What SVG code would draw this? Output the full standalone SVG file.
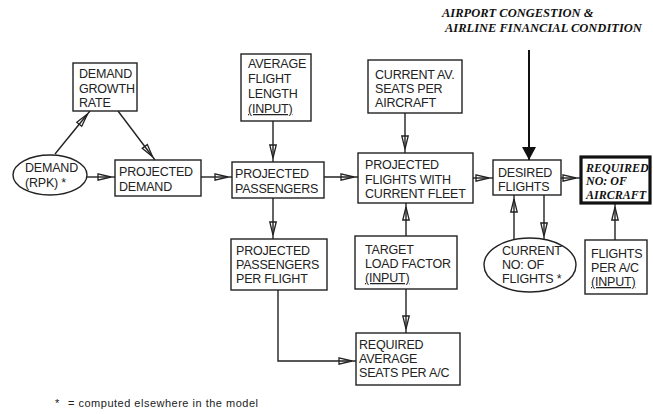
<svg xmlns="http://www.w3.org/2000/svg" width="653" height="414" viewBox="0 0 653 414">
<style>
.bx{fill:#fff;stroke:#222;stroke-width:1.4}
.thick{fill:#fff;stroke:#111;stroke-width:3.2}
.t{font-family:"Liberation Sans",Arial,sans-serif;font-size:12.5px;letter-spacing:-0.2px;fill:#222}
.bi{font-family:"Liberation Serif","Times New Roman",serif;font-size:12px;font-weight:bold;font-style:italic;fill:#111}
.ti{font-family:"Liberation Serif","Times New Roman",serif;font-size:12.5px;font-weight:bold;font-style:italic;fill:#111}
.fn{font-family:"Liberation Sans",Arial,sans-serif;font-size:11px;letter-spacing:0.5px;fill:#222}
.u{text-decoration:underline}
.c{fill:none;stroke:#222;stroke-width:1.4;marker-end:url(#oa)}
.cb{fill:none;stroke:#111;stroke-width:2;marker-end:url(#fa)}
</style>
<defs>
<marker id="oa" markerUnits="userSpaceOnUse" viewBox="0 0 14 10" markerWidth="14" markerHeight="10" refX="17" refY="5" orient="auto" overflow="visible">
<path d="M0,1.8 L13,5 L0,8.2 Z" fill="none" stroke="#222" stroke-width="1.3"/>
</marker>
<marker id="fa" markerUnits="userSpaceOnUse" viewBox="0 0 14 14" markerWidth="14" markerHeight="14" refX="13" refY="7" orient="auto" overflow="visible">
<path d="M0,0 L13,7 L0,14 Z" fill="#111"/>
</marker>
</defs>

<g id="title">
<text class="ti" x="442" y="17">AIRPORT CONGESTION &amp;</text>
<text class="ti" x="445" y="32">AIRLINE FINANCIAL CONDITION</text>
</g>

<g id="connectors">
<path class="c" d="M55,154 L90,111"/>
<path class="c" d="M118,111 L155,160"/>
<path class="c" d="M87,177 L115,177"/>
<path class="c" d="M201,177 L232,177"/>
<path class="c" d="M273,121 L273,162"/>
<path class="c" d="M324,177 L358,177"/>
<path class="c" d="M273,198 L273,239"/>
<path class="c" d="M278,290 L278,361 L356,361"/>
<path class="c" d="M405,113 L405,153"/>
<path class="c" d="M406,236 L406,203"/>
<path class="c" d="M406,289 L406,333"/>
<path class="c" d="M473,178 L493,178"/>
<path class="cb" d="M529,50 L529,160"/>
<path class="c" d="M561,178 L580,178"/>
<path class="c" d="M514,239 L514,195"/>
<path class="c" d="M544,195 L544,240"/>
<path class="c" d="M615,240 L615,203"/>
</g>

<g id="demand-growth-rate">
<rect class="bx" x="73" y="63" width="64" height="48"/>
<text class="t" x="79" y="78">DEMAND</text>
<text class="t" x="79" y="93">GROWTH</text>
<text class="t" x="79" y="107">RATE</text>
</g>

<g id="demand-rpk">
<ellipse class="bx" cx="50" cy="175" rx="37" ry="20"/>
<text class="t" x="25" y="172">DEMAND</text>
<text class="t" x="25" y="187">(RPK) *</text>
</g>

<g id="projected-demand">
<rect class="bx" x="115" y="160" width="86" height="36"/>
<text class="t" x="119" y="176">PROJECTED</text>
<text class="t" x="119" y="191">DEMAND</text>
</g>

<g id="average-flight-length">
<rect class="bx" x="241" y="54" width="70" height="67"/>
<text class="t" x="248" y="68">AVERAGE</text>
<text class="t" x="248" y="83">FLIGHT</text>
<text class="t" x="248" y="98">LENGTH</text>
<text class="t u" x="248" y="113">(INPUT)</text>
</g>

<g id="projected-passengers">
<rect class="bx" x="232" y="162" width="92" height="36"/>
<text class="t" x="235" y="178">PROJECTED</text>
<text class="t" x="235" y="193">PASSENGERS</text>
</g>

<g id="projected-passengers-per-flight">
<rect class="bx" x="231" y="239" width="96" height="51"/>
<text class="t" x="236" y="255">PROJECTED</text>
<text class="t" x="236" y="269">PASSENGERS</text>
<text class="t" x="236" y="283">PER FLIGHT</text>
</g>

<g id="current-av-seats">
<rect class="bx" x="368" y="60" width="94" height="53"/>
<text class="t" x="375" y="79">CURRENT AV.</text>
<text class="t" x="375" y="93">SEATS PER</text>
<text class="t" x="375" y="107">AIRCRAFT</text>
</g>

<g id="projected-flights">
<rect class="bx" x="358" y="153" width="115" height="50"/>
<text class="t" x="365" y="169">PROJECTED</text>
<text class="t" x="365" y="184">FLIGHTS WITH</text>
<text class="t" x="365" y="198">CURRENT FLEET</text>
</g>

<g id="target-load-factor">
<rect class="bx" x="355" y="236" width="102" height="53"/>
<text class="t" x="365" y="254">TARGET</text>
<text class="t" x="365" y="268">LOAD FACTOR</text>
<text class="t u" x="365" y="282">(INPUT)</text>
</g>

<g id="required-average-seats">
<rect class="bx" x="356" y="333" width="104" height="52"/>
<text class="t" x="359" y="349">REQUIRED</text>
<text class="t" x="359" y="363">AVERAGE</text>
<text class="t" x="359" y="377">SEATS PER A/C</text>
</g>

<g id="desired-flights">
<rect class="bx" x="493" y="160" width="68" height="35"/>
<text class="t" x="498" y="177">DESIRED</text>
<text class="t" x="498" y="191">FLIGHTS</text>
</g>

<g id="current-no-flights">
<ellipse class="bx" cx="530" cy="265" rx="46" ry="27"/>
<text class="t" x="502" y="255">CURRENT</text>
<text class="t" x="502" y="269">NO: OF</text>
<text class="t" x="502" y="283">FLIGHTS *</text>
</g>

<g id="required-no-aircraft">
<rect class="thick" x="581" y="157" width="69" height="46"/>
<text class="bi" x="586" y="172">REQUIRED</text>
<text class="bi" x="586" y="185">NO: OF</text>
<text class="bi" x="586" y="199">AIRCRAFT</text>
</g>

<g id="flights-per-ac">
<rect class="bx" x="585" y="240" width="62" height="54"/>
<text class="t" x="591" y="258">FLIGHTS</text>
<text class="t" x="591" y="272">PER A/C</text>
<text class="t u" x="591" y="286">(INPUT)</text>
</g>

<g id="footnote">
<text class="fn" x="55" y="407">*</text>
<text class="fn" x="68" y="407">= computed elsewhere in the model</text>
</g>
</svg>
